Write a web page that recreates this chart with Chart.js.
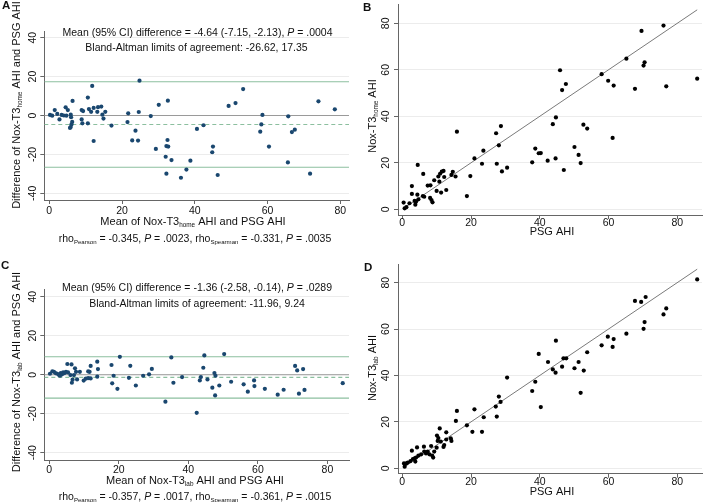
<!DOCTYPE html>
<html><head><meta charset="utf-8">
<script src="https://cdn.jsdelivr.net/npm/chart.js@4/dist/chart.umd.min.js"></script>
<style>
html,body{margin:0;padding:0;background:#fff;}
body{width:706px;height:502px;position:relative;overflow:hidden;}
canvas{position:absolute;}
</style></head><body>
<canvas id="cA" width="353" height="251" style="left:0;top:0"></canvas>
<canvas id="cB" width="353" height="251" style="left:353px;top:0"></canvas>
<canvas id="cC" width="353" height="251" style="left:0;top:251px"></canvas>
<canvas id="cD" width="353" height="251" style="left:353px;top:251px"></canvas>
<script>
// ---------- DATA ----------
// Panel A: Bland-Altman, Nox-T3 home vs PSG (mean, difference)
const homeBAMean = [0.2,0.8,1.5,2.2,2.8,3.4,4.0,4.5,4.7,5.1,5.9,6.0,6.3,5.9,5.7,6.1,6.4,8.9,9.3,8.9,9.1,10.6,10.6,10.9,11.8,11.5,12.2,12.2,13.2,13.4,14.3,14.6,14.9,15.4,17.1,21.7,21.5,22.8,23.7,24.4,24.8,24.6,27.9,29.3,30.1,32.0,32.2,32.6,32.7,32.5,32.2,33.6,36.2,37.7,38.8,40.6,42.4,45.0,44.8,46.3,49.3,51.2,53.3,58.0,58.3,58.6,60.4,65.7,65.6,66.7,67.5,71.7,74.0,78.5];
const homeBADiff = [0.3,-0.1,2.8,0.8,-2.0,0.3,0.0,4.2,-0.1,2.8,0.4,-0.9,-3.3,-5.9,-6.4,-4.6,7.5,2.8,2.3,-2.0,-4.0,9.2,-4.0,3.3,15.2,1.9,-13.1,3.9,1.9,4.3,4.6,0.4,-1.6,1.9,-5.2,1.1,-3.4,-12.8,-7.8,-12.9,17.9,1.8,-0.3,-17.2,5.5,-21.2,-15.7,7.6,-16.0,-12.6,-29.9,-22.9,-32.0,-27.8,-23.2,-6.9,-5.0,-16.0,-18.9,-30.6,4.9,6.4,13.6,-8.3,-4.6,0.3,-16.0,-0.4,-24.1,-8.5,-7.3,-29.9,7.3,3.2];
const homeBAStats = [-4.64, -26.62, 17.35]; // mean difference, lower LoA, upper LoA

// Panel B: PSG AHI vs Nox-T3 home AHI
const psgHome = [0.4,0.7,1.2,2.1,2.8,2.8,3.6,3.8,4.0,4.4,4.5,4.7,6.0,6.1,6.4,7.4,8.2,8.1,8.5,8.8,9.3,10.0,10.5,10.8,11.0,11.3,11.5,12.0,12.2,12.8,14.3,14.7,15.5,15.9,18.8,19.8,21.0,23.2,23.6,27.3,27.5,28.1,28.7,29.0,30.5,37.8,38.7,39.7,40.3,42.3,43.8,44.7,44.6,45.9,46.5,47.0,47.6,50.1,51.3,51.9,52.7,53.8,58.0,59.9,61.2,61.5,65.2,67.7,69.6,70.2,70.5,76.0,76.8,85.8];
const noxHome = [2.9,0.4,0.9,2.6,10.0,6.6,3.6,2.0,3.3,6.3,19.1,4.3,5.7,15.2,5.4,10.2,10.3,4.9,4.0,3.0,12.5,7.9,14.1,11.9,15.3,7.2,16.2,16.5,13.9,8.3,14.8,16.1,14.1,33.4,5.7,14.3,21.9,19.6,25.2,32.7,19.6,27.5,35.8,16.3,17.9,20.2,26.1,24.1,24.2,20.9,36.6,39.5,21.9,59.8,51.3,16.9,53.9,26.8,23.4,19.9,36.4,34.7,58.1,55.3,30.7,53.2,64.8,51.8,76.7,61.8,63.2,79.0,52.9,56.2];

// Panel C: Bland-Altman, Nox-T3 lab vs PSG (mean, difference)
const labBAMean = [0.2,0.9,1.35,1.8,2.3,2.8,3.1,3.3,3.7,4.0,4.4,4.8,5.2,5.4,6.1,6.4,6.7,6.5,7.1,7.4,7.7,8.0,8.8,9.9,10.5,11.2,11.2,11.6,11.9,11.9,13.8,14.0,13.8,17.9,18.5,18.1,19.6,20.3,22.9,23.3,24.9,27.0,28.7,29.5,33.4,35.1,35.7,38.2,42.4,44.6,43.3,43.6,44.3,45.5,46.9,47.5,47.8,47.7,48.9,50.3,52.3,55.9,57.1,58.9,59.0,62.0,65.7,67.4,70.7,71.3,73.0,71.8,73.4,84.4];
const labBADiff = [0.5,1.8,1.5,0.85,0.5,-0.15,-0.5,0.85,0.2,1.2,0.85,1.5,5.5,1.2,-0.15,5.3,-2.5,-4.1,-0.15,3.3,1.5,-2.4,1.5,-3.0,-2.0,-1.7,1.7,1.5,4.5,-1.9,6.7,2.9,-1.0,5.0,-0.5,-4.4,-7.2,9.2,-1.6,4.6,-5.5,-0.5,0.2,3.0,-13.8,8.9,-4.1,-1.2,-19.5,9.9,-2.9,-1.2,3.6,-2.4,-6.6,0.9,-0.5,-10.6,-5.5,10.6,-3.6,-4.9,-8.7,-2.9,-5.8,-7.2,-10.2,-7.7,4.5,2.2,2.9,-9.7,-7.8,-4.3];
const labBAStats = [-1.36, -11.96, 9.24];

// Panel D: PSG AHI vs Nox-T3 lab AHI
const psgLab = [0.7,0.5,1.2,1.6,2.4,2.8,3.1,3.6,3.8,4.0,4.3,4.7,5.5,6.3,6.4,6.9,7.4,7.9,8.4,8.7,9.0,9.3,10.0,10.3,10.1,10.5,10.9,11.2,12.0,12.2,12.8,12.8,14.1,14.3,15.9,15.6,18.8,20.4,21.0,23.2,23.7,27.2,27.5,28.1,28.6,30.5,37.8,38.7,39.7,40.3,42.4,43.8,44.6,44.7,46.5,46.9,47.7,50.1,51.3,51.9,52.8,53.8,58.0,59.8,61.2,61.5,65.2,67.7,69.5,70.2,70.5,70.8,76.0,76.8,85.8];
const noxLab = [0.7,2.1,2.1,2.5,3.1,7.6,4.0,4.3,2.9,4.6,9.0,5.5,6.0,9.3,7.2,6.4,7.2,6.0,9.6,5.5,4.6,7.2,8.9,11.8,14.1,13.0,17.2,11.5,9.2,10.0,12.4,15.5,12.9,11.8,24.7,20.4,18.5,15.7,25.4,15.7,22.0,26.6,22.3,30.9,28.6,39.1,33.3,37.3,49.3,26.4,45.8,42.6,41.2,55.0,43.8,47.4,47.4,43.1,45.8,32.5,42.1,50.0,53.0,56.7,52.3,55.7,58.0,72.1,71.7,60.1,63.0,73.8,66.3,68.9,81.4];

// Tick labels
const xTicksAll = [0,20,40,60,80];
const yTicksBA = [-40,-20,0,20,40];
const yTicksScatter = [0,20,40,60,80];

// ---------- DRAWING ----------
const FAM = '"Liberation Sans", Arial, Helvetica, sans-serif';
const NAVY = '#1a476f', GREEN = '#8cbf9f', ZERO = '#9a9a9a', AXIS = '#666666', GRIDC = '#ececec', TXT = '#111111';

function fontFor(st, size) {
  if (st === 's') return (size * 0.58).toFixed(2) + 'px ' + FAM;
  if (st === 'i') return 'italic ' + size + 'px ' + FAM;
  if (st === 'b') return 'bold ' + size + 'px ' + FAM;
  return size + 'px ' + FAM;
}
function richDraw(ctx, segs, x, y, size, o) {
  o = o || {};
  let w = 0;
  const ws = segs.map(([t, st]) => { ctx.font = fontFor(st, size); const m = ctx.measureText(t).width; w += m; return m; });
  ctx.save();
  ctx.translate(x, y);
  if (o.rot) ctx.rotate(o.rot);
  let cx = o.align === 'left' ? 0 : -w / 2;
  ctx.textBaseline = 'middle'; ctx.textAlign = 'left'; ctx.fillStyle = TXT;
  segs.forEach(([t, st], i) => { ctx.font = fontFor(st, size); ctx.fillText(t, cx, st === 's' ? size * 0.3 : 0); cx += ws[i]; });
  ctx.restore();
}

const panelPlugin = {
  id: 'panelText',
  afterDraw(chart) {
    const p = chart.options.plugins.panelText;
    const ctx = chart.ctx, xs = chart.scales.x, ys = chart.scales.y;
    p.xTicks.forEach(v => richDraw(ctx, [[String(v), 'n']], xs.getPixelForValue(v), p.xTickY, 10.5));
    p.yTicks.forEach(v => richDraw(ctx, [[String(v), 'n']], p.yTickX, ys.getPixelForValue(v), 10.5, {rot: -Math.PI / 2}));
    p.texts.forEach(t => richDraw(ctx, t.segs, t.x, t.y, t.size, t));
  }
};

function pts(xa, ya) { return xa.map((v, i) => ({x: v, y: ya[i]})); }
function hline(v, x0, x1, color, dash) {
  return {data: [{x: x0, y: v}, {x: x1, y: v}], showLine: true, borderColor: color, borderWidth: 1.1, borderDash: dash || [], pointRadius: 0, fill: false};
}

function makePanel(id, cfg) {
  const W = 353, H = 251, TL = 4;
  new Chart(document.getElementById(id), {
    type: 'scatter',
    data: {datasets: cfg.datasets},
    options: {
      responsive: false, animation: false, devicePixelRatio: 1,
      layout: {padding: {left: cfg.area.l - TL, right: W - cfg.area.r, top: cfg.area.t, bottom: H - cfg.area.b - TL}},
      plugins: {legend: {display: false}, tooltip: {enabled: false}, panelText: cfg.text},
      scales: {
        x: {type: 'linear', min: cfg.xr[0], max: cfg.xr[1],
            afterBuildTicks: s => { s.ticks = cfg.text.xTicks.map(v => ({value: v})); },
            ticks: {display: false},
            grid: {drawOnChartArea: false, drawTicks: true, tickLength: TL, color: AXIS, tickColor: AXIS},
            border: {display: true, color: AXIS, width: 1}},
        y: {type: 'linear', min: cfg.yr[0], max: cfg.yr[1],
            afterBuildTicks: s => { s.ticks = cfg.text.yTicks.map(v => ({value: v})); },
            ticks: {display: false},
            grid: {drawOnChartArea: true, drawTicks: true, tickLength: TL, color: GRIDC, tickColor: AXIS},
            border: {display: true, color: AXIS, width: 1}}
      }
    },
    plugins: [panelPlugin]
  });
}

function baDatasets(mean, diff, stats, xr) {
  return [
    {data: pts(mean, diff), pointRadius: 2.1, pointBackgroundColor: NAVY, pointBorderWidth: 0, showLine: false},
    hline(stats[2], xr[0], xr[1], GREEN),
    hline(stats[1], xr[0], xr[1], GREEN),
    hline(stats[0], xr[0], xr[1], GREEN, [4, 3]),
    hline(0, xr[0], xr[1], ZERO)
  ];
}
function scDatasets(xa, ya) {
  const lo = Math.min(...xa), hi = Math.max(...xa);
  return [
    {data: pts(xa, ya), pointRadius: 2.1, pointBackgroundColor: '#000', pointBorderWidth: 0, showLine: false},
    {data: [{x: lo, y: lo}, {x: hi, y: hi}], showLine: true, borderColor: '#7a7a7a', borderWidth: 1, pointRadius: 0, fill: false}
  ];
}

// Panel A
const xrA = [-1.37, 82.4];
makePanel('cA', {
  area: {l: 44.3, r: 350, t: 31, b: 200}, xr: xrA, yr: [-43.44, 43.44],
  datasets: baDatasets(homeBAMean, homeBADiff, homeBAStats, xrA),
  text: {xTicks: xTicksAll, yTicks: yTicksBA, xTickY: 211.5, yTickX: 33.3, texts: [
    {segs: [['A', 'b']], x: 2, y: 6, size: 11.5, align: 'left'},
    {segs: [['Mean (95% CI) difference = -4.64 (-7.15, -2.13), ', 'n'], ['P', 'i'], [' = .0004', 'n']], x: 197.5, y: 32.7, size: 10.5},
    {segs: [['Bland-Altman limits of agreement: -26.62, 17.35', 'n']], x: 196.5, y: 47.7, size: 10.5},
    {segs: [['Mean of Nox-T3', 'n'], ['home', 's'], [' AHI and PSG AHI', 'n']], x: 193, y: 222, size: 11},
    {segs: [['rho', 'n'], ['Pearson', 's'], [' = -0.345, ', 'n'], ['P', 'i'], [' = .0023, rho', 'n'], ['Spearman', 's'], [' = -0.331, ', 'n'], ['P', 'i'], [' = .0035', 'n']], x: 195, y: 239.5, size: 10.5},
    {segs: [['Difference of Nox-T3', 'n'], ['home', 's'], [' AHI and PSG AHI', 'n']], x: 16.5, y: 105, size: 11, rot: -Math.PI / 2}
  ]}
});

// Panel B
makePanel('cB', {
  area: {l: 45, r: 352, t: 4, b: 215}, xr: [-1.24, 87.2], yr: [-2.45, 88.3],
  datasets: scDatasets(psgHome, noxHome),
  text: {xTicks: xTicksAll, yTicks: yTicksScatter, xTickY: 223, yTickX: 33.3, texts: [
    {segs: [['B', 'b']], x: 10, y: 7.5, size: 11.5, align: 'left'},
    {segs: [['PSG AHI', 'n']], x: 199, y: 231.5, size: 11},
    {segs: [['Nox-T3', 'n'], ['home', 's'], [' AHI', 'n']], x: 20, y: 116, size: 11, rot: -Math.PI / 2}
  ]}
});

// Panel C
const xrC = [-1.43, 86.2];
makePanel('cC', {
  area: {l: 44.3, r: 350, t: 38.5, b: 209}, xr: xrC, yr: [-43.7, 43.7],
  datasets: baDatasets(labBAMean, labBADiff, labBAStats, xrC),
  text: {xTicks: xTicksAll, yTicks: yTicksBA, xTickY: 219, yTickX: 33.3, texts: [
    {segs: [['C', 'b']], x: 1, y: 15, size: 11.5, align: 'left'},
    {segs: [['Mean (95% CI) difference = -1.36 (-2.58, -0.14), ', 'n'], ['P', 'i'], [' = .0289', 'n']], x: 197, y: 36.7, size: 10.5},
    {segs: [['Bland-Altman limits of agreement: -11.96, 9.24', 'n']], x: 197, y: 53.3, size: 10.5},
    {segs: [['Mean of Nox-T3', 'n'], ['lab', 's'], [' AHI and PSG AHI', 'n']], x: 195, y: 230, size: 11},
    {segs: [['rho', 'n'], ['Pearson', 's'], [' = -0.357, ', 'n'], ['P', 'i'], [' = .0017, rho', 'n'], ['Spearman', 's'], [' = -0.361, ', 'n'], ['P', 'i'], [' = .0015', 'n']], x: 195, y: 246.5, size: 10.5},
    {segs: [['Difference of Nox-T3', 'n'], ['lab', 's'], [' AHI and PSG AHI', 'n']], x: 16.5, y: 121, size: 11, rot: -Math.PI / 2}
  ]}
});

// Panel D
makePanel('cD', {
  area: {l: 45, r: 352, t: 13.3, b: 222.7}, xr: [-1.24, 87.2], yr: [-2.33, 87.9],
  datasets: scDatasets(psgLab, noxLab),
  text: {xTicks: xTicksAll, yTicks: yTicksScatter, xTickY: 231, yTickX: 33.3, texts: [
    {segs: [['D', 'b']], x: 11, y: 17, size: 11.5, align: 'left'},
    {segs: [['PSG AHI', 'n']], x: 199, y: 240.5, size: 11},
    {segs: [['Nox-T3', 'n'], ['lab', 's'], [' AHI', 'n']], x: 20, y: 117, size: 11, rot: -Math.PI / 2}
  ]}
});
</script>
</body></html>
